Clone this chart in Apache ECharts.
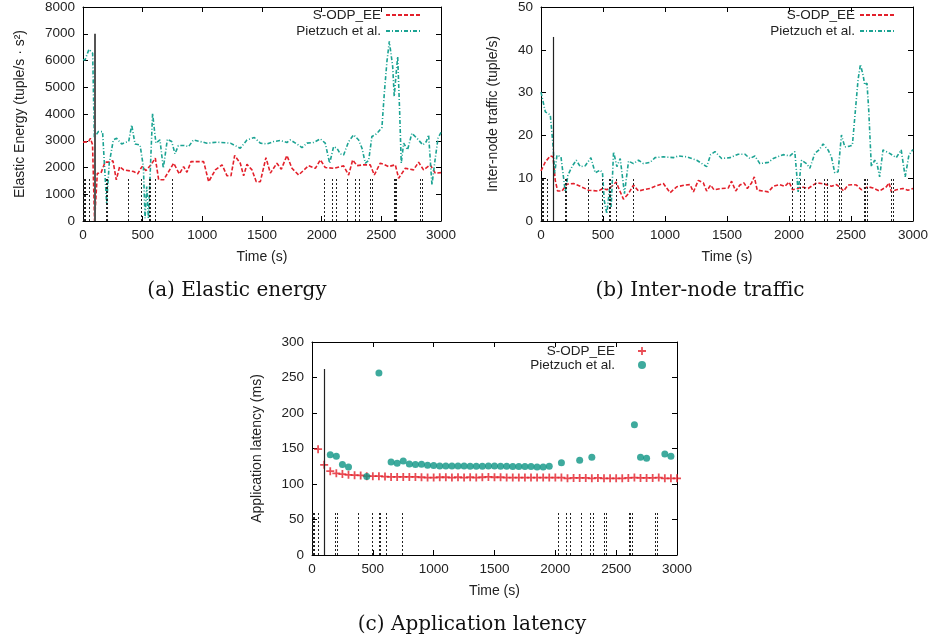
<!DOCTYPE html>
<html><head><meta charset="utf-8">
<script src="https://cdn.jsdelivr.net/npm/echarts@6/dist/echarts.min.js"></script>
<style>html,body{margin:0;padding:0;background:#fff}#c{width:932px;height:642px}</style>
</head><body><div id="c"></div>
<script>
// ---------- data ----------
const seriesNames = ['S-ODP_EE', 'Pietzuch et al.'];
const captions = ['(a) Elastic energy', '(b) Inter-node traffic', '(c) Application latency'];
const xTickMax = 3000, xTickStep = 500;
const eventTimes = [3, 10, 20, 50, 195, 205, 383, 492, 552, 562, 609, 745, 2024, 2092, 2120, 2213, 2283, 2311, 2403, 2421, 2605, 2617, 2629, 2823, 2841];
const switchTime = 100;

const energySODP = [[0,2950],[45,2960],[62,3090],[80,2850],[97,0],[104,0],[120,1780],[150,1790],[185,2200],[215,2200],[251,2250],[279,1540],[307,2035],[341,1910],[424,1850],[458,1760],[494,2035],[528,1885],[570,2100],[606,2350],[634,1540],[676,1540],[760,2160],[807,1760],[843,2035],[871,1820],[905,2220],[1011,2220],[1053,1470],[1109,1910],[1165,2100],[1207,1690],[1240,1690],[1271,2450],[1318,2160],[1346,1690],[1374,2120],[1416,1910],[1452,1470],[1486,1470],[1533,2370],[1570,1790],[1625,2160],[1662,1935],[1709,2450],[1751,1970],[1807,1720],[1891,2070],[1947,1970],[1989,2285],[2030,2000],[2100,1970],[2184,2060],[2226,1720],[2260,2285],[2296,2070],[2352,2100],[2407,2100],[2441,1720],[2491,2160],[2519,2120],[2561,2035],[2617,2100],[2645,1600],[2701,1970],[2770,1910],[2812,2200],[2854,1910],[2910,2100],[2952,1790],[3000,1810]];
const energyPietzuch = [[0,6030],[17,6020],[50,6420],[81,6270],[95,3100],[100,3030],[128,3340],[164,3340],[198,660],[220,2160],[254,3030],[282,3090],[324,2880],[352,2935],[383,2970],[408,3590],[436,2880],[478,2845],[506,2030],[520,100],[534,1285],[548,100],[583,4025],[611,2910],[645,3030],[673,1970],[707,3055],[743,2970],[771,2510],[799,2820],[849,2820],[885,2780],[925,3030],[1039,2910],[1123,2945],[1235,2910],[1318,2720],[1374,3030],[1436,3120],[1486,2910],[1542,2880],[1598,2970],[1653,3010],[1709,2935],[1737,3030],[1793,2880],[1835,2745],[1877,2910],[1933,2935],[1989,3070],[2030,2910],[2067,2160],[2100,2780],[2128,2720],[2156,2510],[2184,2470],[2226,2970],[2268,3220],[2310,3030],[2338,2720],[2366,2160],[2394,2260],[2421,3160],[2449,3220],[2477,3345],[2505,3500],[2525,4780],[2547,5965],[2567,6715],[2595,5780],[2608,4655],[2622,5405],[2637,6150],[2653,4155],[2667,2160],[2687,2910],[2720,2660],[2756,3280],[2798,3095],[2848,2845],[2877,2970],[2896,3220],[2924,1350],[2952,2346],[2975,3095],[3000,3310]];

const trafficSODP = [[0,11.7],[35,13.8],[75,15.2],[97,15.0],[115,9.5],[134,7.0],[169,7.0],[209,8.6],[263,8.75],[317,8.1],[384,7.2],[464,7.0],[496,7.6],[531,7.3],[571,8.1],[606,9.1],[639,6.8],[665,5.1],[706,6.4],[746,8.4],[786,7.0],[826,7.3],[880,7.6],[920,8.1],[987,8.75],[1041,6.6],[1095,8.0],[1162,8.4],[1202,8.5],[1229,6.8],[1269,9.5],[1309,8.9],[1336,7.0],[1368,8.4],[1395,7.3],[1457,7.6],[1510,7.7],[1537,9.3],[1570,7.0],[1604,8.4],[1637,8.9],[1664,7.6],[1698,8.9],[1720,10.3],[1744,7.2],[1792,7.0],[1833,6.8],[1873,8.1],[1926,8.5],[1967,8.1],[2001,9.1],[2028,7.3],[2074,7.6],[2101,8.0],[2154,7.6],[2222,8.9],[2262,8.75],[2302,8.5],[2342,8.1],[2383,8.5],[2415,7.8],[2441,7.0],[2476,8.4],[2517,8.5],[2544,8.4],[2584,7.3],[2637,8.0],[2678,7.7],[2731,7.0],[2785,8.0],[2807,8.9],[2825,6.8],[2865,7.3],[2919,7.6],[2959,7.2],[3000,7.6]];
const trafficPietzuch = [[0,30.1],[35,25.5],[75,24.8],[97,17.7],[110,11.1],[129,15.4],[161,15.0],[196,6.8],[217,10.7],[250,12.7],[284,14.2],[317,12.7],[357,12.9],[402,14.8],[437,11.25],[478,11.9],[496,11.25],[510,4.8],[531,1.7],[553,7.6],[566,3.3],[585,16.2],[612,12.7],[639,14.6],[673,6.4],[706,14.0],[746,13.4],[786,14.2],[826,13.4],[880,13.7],[920,14.8],[987,15.0],[1068,14.8],[1108,15.2],[1175,15.0],[1256,14.2],[1336,12.7],[1368,15.5],[1403,16.2],[1457,14.6],[1524,14.8],[1591,15.6],[1644,15.6],[1685,14.6],[1725,15.2],[1765,13.4],[1833,13.7],[1873,14.6],[1953,15.5],[2007,15.2],[2047,16.2],[2074,6.8],[2101,14.2],[2141,13.4],[2168,12.3],[2208,15.8],[2243,16.6],[2275,18.0],[2315,16.6],[2342,15.0],[2369,11.25],[2396,11.5],[2423,20.1],[2450,17.3],[2490,17.5],[2511,17.7],[2538,26.7],[2557,33.0],[2576,36.6],[2597,34.1],[2611,31.8],[2629,32.2],[2643,25.9],[2664,12.7],[2691,14.2],[2710,13.4],[2731,10.3],[2758,16.6],[2812,15.8],[2865,14.8],[2905,16.6],[2937,10.3],[2967,15.4],[3000,16.7]];

const latencySODP = [[50,149],[100,127],[150,118],[200,115],[250,114],[300,113],[350,112.5],[400,112],[450,111],[500,111],[550,111],[600,110.5],[650,110],[700,110],[750,110],[800,110],[850,110],[900,109.5],[950,109],[1000,109],[1050,109.5],[1100,109.5],[1150,109],[1200,109.5],[1250,109],[1300,109.5],[1350,109],[1400,109.5],[1450,110],[1500,109.5],[1550,109.5],[1600,109],[1650,109],[1700,109],[1750,109],[1800,109],[1850,109],[1900,109],[1950,109],[2000,109],[2050,109],[2100,108],[2150,108.5],[2200,108.5],[2250,108.5],[2300,108],[2350,108.5],[2400,108],[2450,108],[2500,108],[2550,108],[2600,108.5],[2650,109],[2700,108.5],[2750,108.5],[2800,108.5],[2850,109],[2900,108],[2950,108],[3000,108]];
const latencyPietzuch = [[150,141.3],[200,139],[250,127.3],[300,124],[450,110.4],[550,256.5],[650,131],[700,129.2],[750,132.4],[800,128.2],[850,127.3],[900,127.8],[950,126.4],[1000,125.9],[1050,125.4],[1100,125.4],[1150,125.4],[1200,125.4],[1250,125.4],[1300,125],[1350,125],[1400,125],[1450,125.4],[1500,125.4],[1550,125],[1600,125],[1650,124.5],[1700,124.5],[1750,124.5],[1800,124.5],[1850,124],[1900,124],[1950,125],[2050,130.1],[2200,133.4],[2300,137.6],[2650,183.5],[2700,137.6],[2750,136.2],[2900,142.3],[2950,139]];

// per-panel y settings
const yMaxes = [8000, 50, 300];
const yIntervals = [1000, 10, 50];
const eventHeights = [1600, 10, 60];
const switchHeights = [7000, 43, 262];
const yNames = ['Elastic Energy (tuple/s · s²)', 'Inter-node traffic (tuple/s)', 'Application latency (ms)'];

// ---------- styling ----------
const RED = '#e3202b', TEAL = '#1ba393', TEALDOT = '#0e9585';
const FONT = 'Liberation Sans, Arial, sans-serif';
const grids = [
  {left: 83, top: 7, width: 358, height: 214},
  {left: 541, top: 7, width: 372, height: 214},
  {left: 312, top: 342, width: 365, height: 213}
];
const yNameGaps = [56, 41, 48];
const plainNum = v => String(v);

function xAxesFor(g) {
  const base = {type: 'value', gridIndex: g, min: 0, max: xTickMax, interval: xTickStep,
    splitLine: {show: false},
    axisLine: {show: true, onZero: false, lineStyle: {color: '#000', width: 1}},
    axisTick: {show: true, inside: true, length: 5, lineStyle: {color: '#000'}}};
  return [
    Object.assign({}, base, {position: 'bottom', name: 'Time (s)', nameLocation: 'middle', nameGap: 29,
      nameTextStyle: {fontFamily: FONT, fontSize: 14, color: '#222'},
      axisLabel: {fontFamily: FONT, fontSize: 13.5, color: '#222', margin: 7, formatter: plainNum}}),
    Object.assign({}, base, {position: 'top', axisLabel: {show: false}})
  ];
}
function yAxesFor(g) {
  const base = {type: 'value', gridIndex: g, min: 0, max: yMaxes[g], interval: yIntervals[g],
    splitLine: {show: false},
    axisLine: {show: true, onZero: false, lineStyle: {color: '#000', width: 1}},
    axisTick: {show: true, inside: true, length: 5, lineStyle: {color: '#000'}}};
  return [
    Object.assign({}, base, {position: 'left', name: yNames[g], nameLocation: 'middle', nameGap: yNameGaps[g],
      nameTextStyle: {fontFamily: FONT, fontSize: 14, color: '#222'},
      axisLabel: {fontFamily: FONT, fontSize: 13.5, color: '#222', margin: 8, formatter: plainNum}}),
    Object.assign({}, base, {position: 'right', axisLabel: {show: false}})
  ];
}

function eventSeries(g) {
  const data = eventTimes.map(t => [{coord: [t, 0]}, {coord: [t, eventHeights[g]]}]);
  data.push([{coord: [switchTime, 0], lineStyle: {type: 'solid', color: g === 0 ? '#555' : '#222', width: g === 0 ? 2 : 1.2}},
             {coord: [switchTime, switchHeights[g]]}]);
  return {type: 'line', name: 'events' + g, xAxisIndex: g * 2, yAxisIndex: g * 2, data: [], z: 1,
    markLine: {silent: true, symbol: ['none', 'none'], label: {show: false}, animation: false,
      lineStyle: {color: '#222', type: [2, 2], width: 1}, data: data}};
}

function lineSeries(g, key, data, color, dash) {
  return {type: 'line', name: key, xAxisIndex: g * 2, yAxisIndex: g * 2, data: data,
    symbol: 'none', z: 3, lineStyle: {color: color, width: 1.6, type: dash}, itemStyle: {color: color}};
}

const PLUS = 'path://M3.5,0L5.5,0L5.5,3.5L9,3.5L9,5.5L5.5,5.5L5.5,9L3.5,9L3.5,5.5L0,5.5L0,3.5L3.5,3.5Z';

const series = [
  eventSeries(0),
  lineSeries(0, 'a:' + seriesNames[0], energySODP, RED, [4, 2]),
  lineSeries(0, 'a:' + seriesNames[1], energyPietzuch, TEAL, [4, 2, 1, 2]),
  eventSeries(1),
  lineSeries(1, 'b:' + seriesNames[0], trafficSODP, RED, [4, 2]),
  lineSeries(1, 'b:' + seriesNames[1], trafficPietzuch, TEAL, [4, 2, 1, 2]),
  eventSeries(2),
  {type: 'scatter', name: 'c:' + seriesNames[0], xAxisIndex: 4, yAxisIndex: 4, data: latencySODP,
    symbol: PLUS, symbolSize: 8, z: 3, itemStyle: {color: RED}},
  {type: 'scatter', name: 'c:' + seriesNames[1], xAxisIndex: 4, yAxisIndex: 4, data: latencyPietzuch,
    symbol: 'circle', symbolSize: 7, z: 3, itemStyle: {color: TEALDOT}}
];

function legendFor(name, right, top, w, h, hideSymbol) {
  const l = {data: [name], right: right, top: top, orient: 'vertical', align: 'right', padding: 0,
    itemWidth: w, itemHeight: h, selectedMode: false,
    formatter: n => n.split(':')[1],
    textStyle: {fontFamily: FONT, fontSize: 13.5, color: '#222'}};
  if (hideSymbol) l.itemStyle = {opacity: 0};
  return l;
}

const legends = [
  legendFor('a:' + seriesNames[0], 509, 8, 36, 10, true),
  legendFor('a:' + seriesNames[1], 509, 24, 36, 10, true),
  legendFor('b:' + seriesNames[0], 35, 8, 36, 10, true),
  legendFor('b:' + seriesNames[1], 35, 24, 36, 10, true),
  legendFor('c:' + seriesNames[0], 286, 344, 44, 8, false),
  legendFor('c:' + seriesNames[1], 286, 358, 44, 8, false)
];

const captionPos = [[237, 291], [700, 291], [472, 625]];
const graphics = captions.map((t, i) => ({type: 'text', x: captionPos[i][0], y: captionPos[i][1], silent: true,
  style: {text: t, font: '20px "DejaVu Serif", serif', fill: '#111', align: 'center', verticalAlign: 'middle'}}));

const chart = echarts.init(document.getElementById('c'), null, {renderer: 'canvas'});
chart.setOption({
  animation: false,
  backgroundColor: '#fff',
  grid: grids,
  xAxis: [].concat(xAxesFor(0), xAxesFor(1), xAxesFor(2)),
  yAxis: [].concat(yAxesFor(0), yAxesFor(1), yAxesFor(2)),
  legend: legends,
  series: series,
  graphic: graphics
});
</script></body></html>
